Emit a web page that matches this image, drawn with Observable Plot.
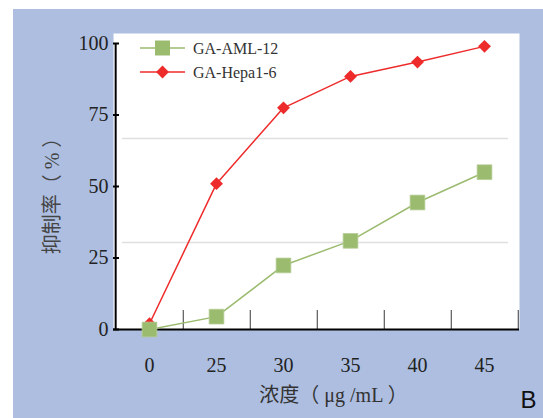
<!DOCTYPE html>
<html><head><meta charset="utf-8">
<script src="https://cdn.jsdelivr.net/npm/d3@7"></script>
<script src="https://cdn.jsdelivr.net/npm/@observablehq/plot@0.6"></script>
<style>
html,body{margin:0;padding:0;background:#fff;}
#chart{position:absolute;left:13px;top:9px;}
#chart svg{font-family:"Liberation Serif","Noto Sans CJK SC",serif;}
</style></head><body><div id="chart"></div>
<script>
const concentrations = ["0", "25", "30", "35", "40", "45"];
const seriesNames = ["GA-AML-12", "GA-Hepa1-6"];
const aml12 = [0, 4.5, 22.4, 31, 44.4, 55];
const hepa = [2, 51, 77.5, 88.5, 93.5, 99];
const yTicks = [0, 25, 50, 75, 100];
const gridValues = [30.4, 66.8];
const xTitle = "浓度（ μg /mL ）";
const yTitle = "抑制率（ % ）";
const panelLabel = "B";

const colors = ["#9bbb6f", "#ee2b2b"];
const symbols = ["square", "diamond2"];

const W = 530, H = 409;
const mL = 100, mR = 24, mT = 24, mB = 89;
const step = (W - mL - mR) / concentrations.length;
const serif = "'Liberation Serif', 'Noto Sans CJK SC', serif";

const rows = [];
[aml12, hepa].forEach((vals, s) => vals.forEach((v, i) => rows.push({series: seriesNames[s], x: concentrations[i], y: v})));
const greenRows = rows.filter(d => d.series === seriesNames[0]);
const redRows = rows.filter(d => d.series === seriesNames[1]);

function legend(index, scales, values, dims) {
  const g = d3.create("svg:g").attr("font-family", serif).attr("font-size", 16).attr("text-anchor", "start");
  seriesNames.forEach((name, i) => {
    const y = dims.marginTop + 15 + 24 * i;
    const x0 = dims.marginLeft + 27, x1 = dims.marginLeft + 72, xm = (x0 + x1) / 2;
    const c = scales.color(name);
    g.append("line").attr("x1", x0).attr("x2", x1).attr("y1", y).attr("y2", y)
      .attr("stroke", c).attr("stroke-width", 1.5);
    const sym = d3.symbol(i === 0 ? d3.symbolSquare : d3.symbolDiamond2, i === 0 ? 225 : 105)();
    g.append("path").attr("d", sym).attr("transform", `translate(${xm},${y})`).attr("fill", c);
    g.append("text").attr("x", dims.marginLeft + 80).attr("y", y + 5.5).attr("fill", "#333").text(name);
  });
  return g.node();
}

function yTitleMark(index, scales, values, dims) {
  const cx = dims.marginLeft - 61;
  const cy = (dims.marginTop + dims.height - dims.marginBottom) / 2 + 10;
  const g = d3.create("svg:g");
  g.append("text")
    .attr("transform", `translate(${cx},${cy}) rotate(-90)`)
    .attr("text-anchor", "middle").attr("dy", "0.35em")
    .attr("font-family", serif).attr("font-size", 20).attr("fill", "#444")
    .text(yTitle);
  return g.node();
}

const chart = Plot.plot({
  width: W, height: H,
  marginLeft: mL, marginRight: mR, marginTop: mT, marginBottom: mB,
  style: {background: "#adbee0", overflow: "visible"},
  x: {type: "point", domain: concentrations, padding: 0.5},
  y: {domain: [0, 103.5]},
  color: {domain: seriesNames, range: colors},
  symbol: {domain: seriesNames, range: symbols},
  marks: [
    Plot.frame({fill: "white", stroke: null}),
    Plot.ruleY(gridValues, {stroke: "#e0e0e0", strokeWidth: 1.5, insetLeft: 9, insetRight: 11}),
    Plot.ruleX(concentrations, {x: d => d, dx: step / 2, y1: 0, y2: 6.6, stroke: "#666", strokeWidth: 1.3}),
    Plot.ruleY([0], {stroke: "#000", strokeWidth: 2}),
    Plot.ruleX([concentrations[0]], {dx: -step / 2, y1: 0, y2: 100, stroke: "#000", strokeWidth: 2}),
    Plot.axisY({ticks: yTicks, tickSize: 0, tickPadding: 5, fontSize: 20, fontFamily: serif, label: null, fill: "#222"}),
    Plot.axisY({ticks: yTicks, tickSize: 6, dx: 6, tickFormat: () => "", label: null, stroke: "#000", strokeWidth: 2}),
    Plot.axisX({tickSize: 0, tickPadding: 28, fontSize: 20, fontFamily: serif, label: null, fill: "#222"}),
    Plot.line(redRows, {x: "x", y: "y", stroke: "series", strokeWidth: 1.5}),
    Plot.dot(redRows, {x: "x", y: "y", symbol: "series", fill: "series", r: 5.8}),
    Plot.line(greenRows, {x: "x", y: "y", stroke: "series", strokeWidth: 1.5}),
    Plot.dot(greenRows, {x: "x", y: "y", symbol: "series", fill: "series", stroke: "#b5cc95", strokeWidth: 0.8, r: 8.3}),
    legend,
    yTitleMark,
    Plot.text([xTitle], {frameAnchor: "bottom", dx: 17, dy: 72, fontSize: 20, fontFamily: serif, fill: "#333"}),
    Plot.text([panelLabel], {frameAnchor: "bottom-right", dx: 17, dy: 78, fontSize: 24, fontFamily: "'Liberation Sans', Arial, sans-serif", textAnchor: "end", fill: "#111"})
  ]
});
chart.setAttribute("font-family", serif);
document.getElementById("chart").appendChild(chart);
</script></body></html>
